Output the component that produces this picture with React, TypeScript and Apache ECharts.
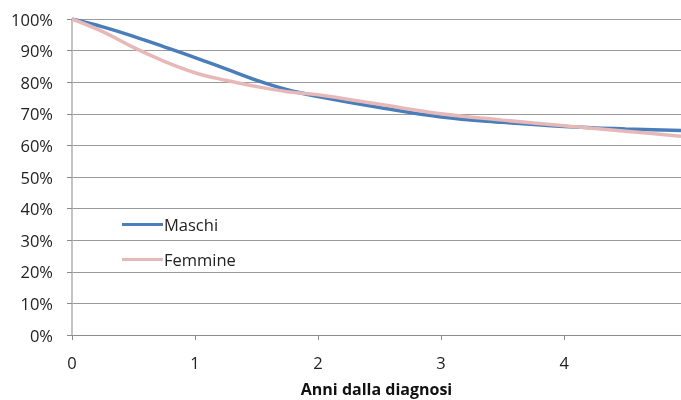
import React, { useEffect, useRef } from "react";
import * as echarts from "echarts";

const years = [0, 0.25, 0.5, 0.75, 1, 1.25, 1.5, 1.75, 2, 2.5, 3, 3.5, 4, 4.5, 4.95];
const maschi = [100, 97.5, 94.5, 91.2, 87.8, 84.2, 80.6, 77.6, 75.5, 72, 69, 67.3, 66, 65.2, 64.7];
const femmine = [100, 96, 91, 86.6, 83, 80.6, 78.6, 77, 76, 73, 70, 68, 66.2, 64.5, 62.9];
const yTicks = ["0%", "10%", "20%", "30%", "40%", "50%", "60%", "70%", "80%", "90%", "100%"];

export default function App() {
  const ref = useRef<HTMLDivElement>(null);
  useEffect(() => {
    if (!ref.current) return;
    const chart = echarts.init(ref.current, undefined, { renderer: "svg" });
    const font = "'Open Sans', 'Noto Sans', sans-serif";
    chart.setOption({
      animation: false,
      grid: { left: 72, top: 19, right: 0, bottom: 65, containLabel: false, outerBoundsMode: "none" },
      legend: {
        orient: "vertical",
        left: 117,
        top: 211,
        padding: 5,
        itemGap: 18,
        itemWidth: 41,
        itemHeight: 3,
        icon: "rect",
        textStyle: { fontFamily: font, fontSize: 16.5, color: "#222", padding: [0, 0, 0, -4] },
        data: ["Maschi", "Femmine"],
      },
      xAxis: {
        type: "value",
        min: 0,
        max: 4.95,
        interval: 1,
        name: "Anni dalla diagnosi",
        nameLocation: "middle",
        nameGap: 46,
        nameTextStyle: { fontFamily: font, fontSize: 16, fontWeight: "bold", color: "#111" },
        axisLine: { show: true, lineStyle: { color: "#8c8c8c", width: 1 } },
        axisTick: { show: true, length: 5, lineStyle: { color: "#8c8c8c" } },
        axisLabel: {
          fontFamily: font,
          fontSize: 16.5,
          color: "#222",
          margin: 19,
          showMaxLabel: false,
          formatter: (v: number) => String(v),
        },
        splitLine: { show: false },
      },
      yAxis: {
        type: "value",
        min: 0,
        max: 100,
        interval: 10,
        axisLine: { show: true, lineStyle: { color: "#b0b0b0", width: 1.5 } },
        axisTick: { show: true, length: 5, lineStyle: { color: "#8c8c8c" } },
        axisLabel: {
          fontFamily: font,
          fontSize: 16.5,
          color: "#222",
          margin: 19,
          formatter: (v: number) => yTicks[Math.round(v / 10)],
        },
        splitLine: { show: true, lineStyle: { color: "#9a9a9a", width: 1 } },
      },
      series: [
        {
          name: "Maschi",
          type: "line",
          smooth: 0.4,
          showSymbol: false,
          data: years.map((x, i) => [x, maschi[i]]),
          lineStyle: { color: "#4a7ebb", width: 3.5 },
          itemStyle: { color: "#4a7ebb" },
        },
        {
          name: "Femmine",
          type: "line",
          smooth: 0.4,
          showSymbol: false,
          data: years.map((x, i) => [x, femmine[i]]),
          lineStyle: { color: "#e6b9b8", width: 3.5 },
          itemStyle: { color: "#e6b9b8" },
        },
      ],
    });
    return () => chart.dispose();
  }, []);
  return <div ref={ref} style={{ width: 681, height: 400, position: "fixed", left: 0, top: 0 }} />;
}
